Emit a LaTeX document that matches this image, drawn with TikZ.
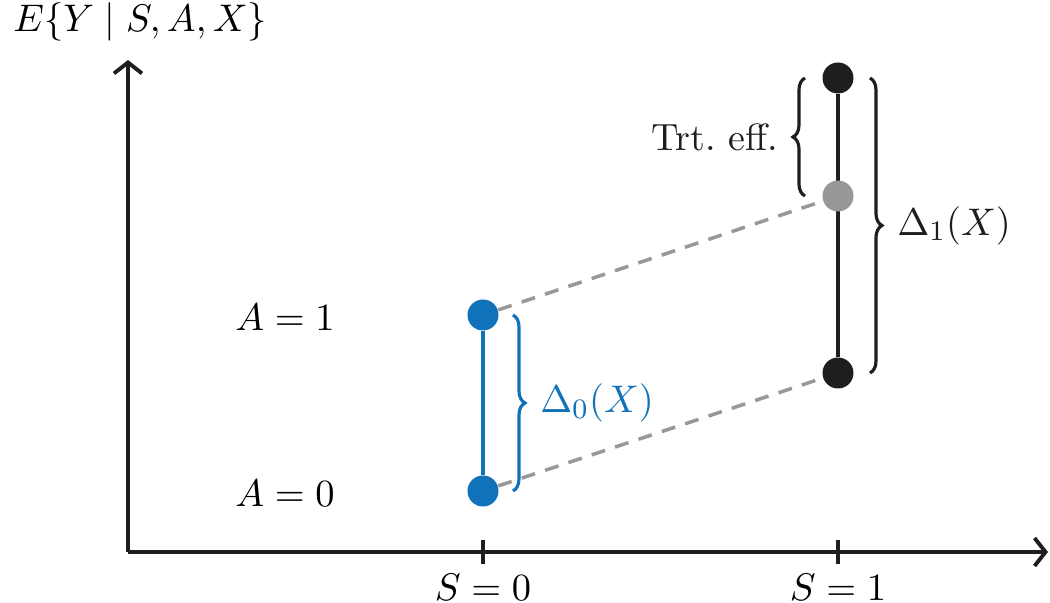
\documentclass[tikz,border=0pt]{standalone}
\usepackage{amsmath}
\usepackage{tikz}
\usetikzlibrary{arrows.meta,positioning,calc,backgrounds,decorations.pathreplacing}
\definecolor{effblue}{RGB}{16,114,185}
\definecolor{darkgrey}{RGB}{30,30,30}
\definecolor{midgrey}{RGB}{152,152,152}

\begin{document}
\begin{tikzpicture}[font=\fontsize{10.8}{13}\selectfont,
        dot/.style={circle, inner sep=0pt, minimum size=0.31cm},
        axis/.style={line width=1.1pt, color=darkgrey, -{Straight Barb[length=1.1mm, width=2.8mm, line width=1.1pt]}},
        brc/.style={decorate, decoration={brace, amplitude=1.2mm}, line width=0.9pt},
        cf/.style={dash pattern=on 4pt off 3pt, line width=1pt, color=midgrey}]
        \useasboundingbox (-1.28,-0.51) rectangle (9.22,5.52);

        % axes
        \coordinate (o) at (0,0);
        \coordinate (xend) at (9.2,0);
        \coordinate (yend) at (0,4.92);
        \draw[axis] (o) -- (xend);
        \draw[axis] (o) -- (yend);
        \node[anchor=west] (ylab) at (-1.27,5.30) {$E\{Y\mid S,A,X\}$};

        % ticks at S = 0 and S = 1
        \foreach \x/\s in {3.55/0, 7.10/1} {
            \draw[line width=0.9pt, color=darkgrey] (\x,-0.12) -- (\x,0.12);
            \node (s\s) at (\x,-0.35) {$S=\s$};
        }

        % outcome means
        \node[dot, fill=effblue] (a1) at (3.55,2.37) {};
        \node[dot, fill=effblue] (a0) at (3.55,0.61) {};
        \node[dot, fill=darkgrey] (t1) at (7.10,4.74) {};
        \node[dot, fill=midgrey] (g1) at (7.10,3.56) {};
        \node[dot, fill=darkgrey] (b1) at (7.10,1.79) {};

        \node (alab1) at (1.57,2.35) {$A=1$};
        \node (alab0) at (1.57,0.59) {$A=0$};

        % connectors behind the dots
        \begin{scope}[on background layer]
            \draw[line width=0.9pt, color=effblue] (a1) -- (a0);
            \draw[line width=0.9pt, color=darkgrey] (t1) -- (b1);
            \draw[cf] (a1) -- (g1);
            \draw[cf] (a0) -- (b1);
        \end{scope}

        % braces
        \draw[brc, color=effblue] ([xshift=0.30cm]a1.center) -- ([xshift=0.30cm]a0.center)
            node[midway, anchor=west, xshift=0.14cm] (d0) {$\Delta_0(X)$};
        \draw[brc, color=darkgrey] ([xshift=0.32cm]t1.center) -- ([xshift=0.32cm]b1.center)
            node[midway, anchor=west, xshift=0.14cm] (d1) {$\Delta_1(X)$};
        \draw[brc, color=darkgrey] ([xshift=-0.33cm]g1.center) -- ([xshift=-0.33cm]t1.center)
            node[midway, anchor=east, xshift=-0.14cm] (te) {Trt.\ eff.};
    \end{tikzpicture}
\end{document}
